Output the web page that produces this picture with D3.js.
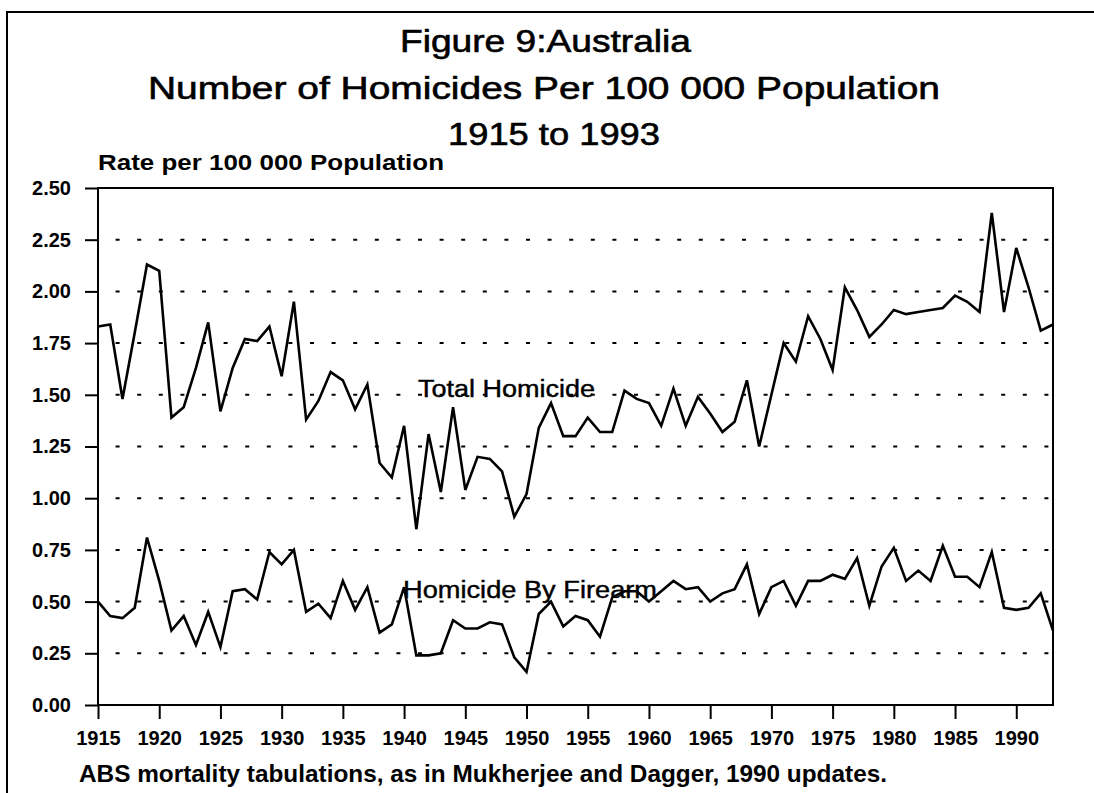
<!DOCTYPE html>
<html>
<head>
<meta charset="utf-8">
<script src="https://cdn.jsdelivr.net/npm/d3@7"></script>
<style>
  body { margin: 0; background: #fff; overflow: hidden; }
  svg { display: block; font-family: 'Liberation Sans', Arial, sans-serif; }
</style>
</head>
<body>
<svg id="chart" width="1094" height="793"></svg>
<script>
const years = d3.range(1915, 1994);
const totalHomicide = [
  1.83, 1.84, 1.48, 1.80, 2.13, 2.10, 1.39, 1.44, 1.63, 1.85,
  1.42, 1.63, 1.77, 1.76, 1.83, 1.59, 1.95, 1.38, 1.47, 1.61,
  1.57, 1.43, 1.55, 1.17, 1.10, 1.35, 0.85, 1.31, 1.03, 1.44,
  1.04, 1.20, 1.19, 1.13, 0.91, 1.02, 1.34, 1.46, 1.30, 1.30,
  1.39, 1.32, 1.32, 1.52, 1.48, 1.46, 1.35, 1.53, 1.35, 1.49,
  1.41, 1.32, 1.37, 1.57, 1.25, 1.50, 1.75, 1.66, 1.88, 1.77,
  1.62, 2.02, 1.91, 1.78, 1.84, 1.91, 1.89, 1.90, 1.91, 1.92,
  1.98, 1.95, 1.90, 2.38, 1.90, 2.21, 2.02, 1.81, 1.84
];
const firearmHomicide = [
  0.50, 0.43, 0.42, 0.47, 0.81, 0.60, 0.36, 0.43, 0.29, 0.45,
  0.28, 0.55, 0.56, 0.51, 0.74, 0.68, 0.75, 0.45, 0.49, 0.42,
  0.60, 0.46, 0.57, 0.35, 0.39, 0.57, 0.24, 0.24, 0.25, 0.41,
  0.37, 0.37, 0.40, 0.39, 0.23, 0.16, 0.44, 0.50, 0.38, 0.43,
  0.41, 0.33, 0.52, 0.55, 0.55, 0.50, 0.55, 0.60, 0.56, 0.57,
  0.50, 0.54, 0.56, 0.68, 0.44, 0.57, 0.60, 0.48, 0.60, 0.60,
  0.63, 0.61, 0.71, 0.48, 0.67, 0.76, 0.60, 0.65, 0.60, 0.77,
  0.62, 0.62, 0.57, 0.74, 0.47, 0.46, 0.47, 0.54, 0.36
];
const yTicks = [0, 0.25, 0.5, 0.75, 1, 1.25, 1.5, 1.75, 2, 2.25, 2.5];
const gridValues = [0.25, 0.5, 0.75, 1, 1.25, 1.5, 1.75, 2, 2.25];
const xTicks = d3.range(1915, 1991, 5);
const titleLines = [
  { text: 'Figure 9:Australia', x: 400, y: 52, width: 291 },
  { text: 'Number of Homicides Per 100 000 Population', x: 148, y: 99, width: 792 },
  { text: '1915 to 1993', x: 448, y: 145, width: 212 }
];
const seriesLabels = [
  { text: 'Total Homicide', x: 418, y: 397, width: 177 },
  { text: 'Homicide By Firearm', x: 403, y: 598, width: 254 }
];

const svg = d3.select('#chart');
const margin = { top: 188, right: 41, bottom: 88, left: 98 };
const width = 1094;
const height = 793;
const innerWidth = width - margin.left - margin.right;
const innerHeight = height - margin.top - margin.bottom;

// outer frame: only the left and top sides show in the scan
svg.append('path')
  .attr('d', `M7,${height}V12H${width}`)
  .attr('fill', 'none').attr('stroke', '#000').attr('stroke-width', 2);

svg.selectAll('text.title')
  .data(titleLines)
  .join('text')
  .attr('class', 'title')
  .attr('x', d => d.x)
  .attr('y', d => d.y)
  .attr('textLength', d => d.width)
  .attr('lengthAdjust', 'spacingAndGlyphs')
  .attr('font-size', 31)
  .attr('fill', '#000')
  .attr('stroke', '#000')
  .attr('stroke-width', 0.6)
  .text(d => d.text);

svg.append('text')
  .attr('x', 98).attr('y', 170)
  .attr('textLength', 346)
  .attr('lengthAdjust', 'spacingAndGlyphs')
  .attr('font-size', 22)
  .attr('font-weight', 'bold')
  .text('Rate per 100 000 Population');

const plot = svg.append('g').attr('transform', `translate(${margin.left},${margin.top})`);
const x = d3.scaleLinear().domain([1915, 1993]).range([0, innerWidth]);
const y = d3.scaleLinear().domain([0, 2.5]).range([innerHeight, 0]);

plot.append('g')
  .selectAll('line')
  .data(gridValues)
  .join('line')
  .attr('x1', 0).attr('x2', innerWidth)
  .attr('y1', d => y(d)).attr('y2', d => y(d))
  .attr('stroke', '#000')
  .attr('stroke-width', 2)
  .attr('stroke-dasharray', '4 17.6')
  .attr('stroke-dashoffset', 4);

plot.append('rect')
  .attr('width', innerWidth).attr('height', innerHeight)
  .attr('fill', 'none').attr('stroke', '#000').attr('stroke-width', 2);

const yAxis = plot.append('g')
  .attr('class', 'axis')
  .call(d3.axisLeft(y).tickValues(yTicks).tickFormat(d3.format('.2f')).tickSize(13).tickPadding(14));

const xAxis = plot.append('g')
  .attr('class', 'axis')
  .attr('transform', `translate(0,${innerHeight})`)
  .call(d3.axisBottom(x).tickValues(xTicks).tickFormat(d3.format('d')).tickSize(14).tickPadding(12));

plot.selectAll('.axis')
  .attr('font-family', "'Liberation Sans', Arial, sans-serif")
  .attr('font-size', 20)
  .attr('font-weight', 'bold');
plot.selectAll('.axis .domain').remove();
plot.selectAll('.axis line').attr('stroke-width', 2);
plot.selectAll('.axis text').attr('fill', '#000');

const line = d3.line()
  .x((d, i) => x(years[i]))
  .y(d => y(d));

[totalHomicide, firearmHomicide].forEach(series => {
  plot.append('path')
    .datum(series)
    .attr('d', line)
    .attr('fill', 'none')
    .attr('stroke', '#000')
    .attr('stroke-width', 2.6)
    .attr('stroke-linejoin', 'miter');
});

svg.selectAll('text.series')
  .data(seriesLabels)
  .join('text')
  .attr('class', 'series')
  .attr('x', d => d.x)
  .attr('y', d => d.y)
  .attr('textLength', d => d.width)
  .attr('lengthAdjust', 'spacingAndGlyphs')
  .attr('font-size', 23)
  .attr('stroke', '#000')
  .attr('stroke-width', 0.4)
  .text(d => d.text);

svg.append('text')
  .attr('x', 79).attr('y', 782)
  .attr('textLength', 808)
  .attr('lengthAdjust', 'spacingAndGlyphs')
  .attr('font-size', 24)
  .attr('font-weight', 'bold')
  .text('ABS mortality tabulations, as in Mukherjee and Dagger, 1990 updates.');
</script>
</body>
</html>
